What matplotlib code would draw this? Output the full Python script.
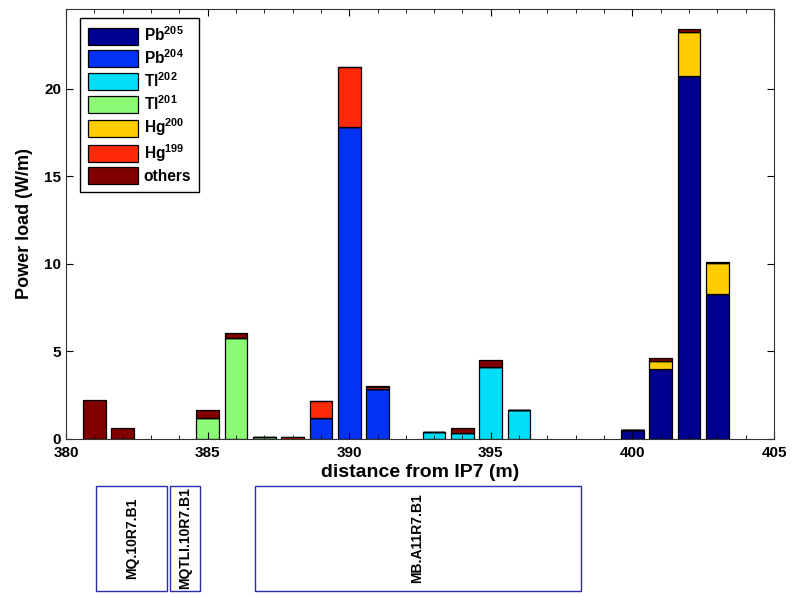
import numpy as np
import matplotlib.pyplot as plt
from matplotlib.patches import Rectangle
from matplotlib.ticker import MultipleLocator

plt.rcParams['font.family'] = ['Liberation Sans', 'DejaVu Sans']
plt.rcParams['font.weight'] = 'bold'
plt.rcParams['mathtext.fontset'] = 'custom'
plt.rcParams['mathtext.bf'] = 'Liberation Sans:bold'
plt.rcParams['mathtext.rm'] = 'Liberation Sans:bold'
plt.rcParams['mathtext.default'] = 'bf'

# positions along the beam line (m)
pos = [381, 382, 385, 386, 387, 388, 389, 390, 391, 393, 394, 395, 396, 400, 401, 402, 403]

# power load per isotope (W/m)
pb205 = [0, 0, 0, 0, 0, 0, 0, 0, 0, 0, 0, 0, 0, 0.51, 4.0, 20.76, 8.27]
pb204 = [0, 0, 0, 0, 0, 0, 1.18, 17.85, 2.84, 0, 0, 0, 0, 0, 0, 0, 0]
tl202 = [0, 0, 0, 0, 0, 0, 0, 0, 0, 0.38, 0.36, 4.13, 1.66, 0, 0, 0, 0]
tl201 = [0, 0, 1.18, 5.75, 0.13, 0, 0, 0, 0, 0, 0, 0, 0, 0, 0, 0, 0]
hg200 = [0, 0, 0, 0, 0, 0, 0, 0, 0, 0, 0, 0, 0, 0, 0.46, 2.48, 1.77]
hg199 = [0, 0, 0, 0, 0, 0.12, 0.99, 3.42, 0.13, 0, 0, 0, 0, 0, 0, 0, 0]
others = [2.25, 0.62, 0.48, 0.29, 0, 0, 0, 0, 0.03, 0, 0.29, 0.38, 0, 0, 0.19, 0.16, 0.07]

series = [pb205, pb204, tl202, tl201, hg200, hg199, others]
labels = ['Pb$^{205}$', 'Pb$^{204}$', 'Tl$^{202}$', 'Tl$^{201}$', 'Hg$^{200}$', 'Hg$^{199}$', 'others']
colors = ['#000090', '#0433F5', '#00DDF6', '#8CFA74', '#FFCC00', '#FF2A0A', '#800000']

# magnets below the plot: name, start, end (m)
magnets = ['MQ.10R7.B1', 'MQTLI.10R7.B1', 'MB.A11R7.B1']
mag_start = [381.06, 383.67, 386.66]
mag_end = [383.58, 384.73, 398.17]

fig = plt.figure(figsize=(8.05, 5.97), dpi=100)
ax = fig.add_axes([0.082, 0.2647, 0.8795, 0.7203])

bottom = np.zeros(len(pos))
for vals, lab, col in zip(series, labels, colors):
    vals = np.array(vals)
    ax.bar(pos, vals, width=0.8, bottom=bottom, color=col, edgecolor='black',
           linewidth=0.9, label=lab)
    bottom += vals

ax.set_xlim(380, 405)
ax.set_ylim(0, 24.57)
ax.xaxis.set_major_locator(MultipleLocator(5))
ax.xaxis.set_minor_locator(MultipleLocator(1))
ax.yaxis.set_major_locator(MultipleLocator(5))
ax.tick_params(which='both', direction='in', top=True, right=True, labelsize=11)
ax.tick_params(axis='x', pad=5)
ax.tick_params(which='major', length=5)
ax.tick_params(which='minor', length=3)
for s in ax.spines.values():
    s.set_color('#333333')
ax.set_xlabel('distance from IP7 (m)', fontsize=14, fontweight='bold', labelpad=3)
ax.set_ylabel('Power load (W/m)', fontsize=13, fontweight='bold', labelpad=8)

leg = ax.legend(loc='upper left', fontsize=11.2, handlelength=3.2, handleheight=1.3,
                labelspacing=0.24, borderpad=0.5, handletextpad=0.4,
                borderaxespad=0, fancybox=False, edgecolor='black', framealpha=1,
                bbox_to_anchor=(0.0198, 0.979))
leg.get_frame().set_linewidth(1.0)

# magnet layout strip
ax2 = fig.add_axes([0.082, 0.01, 0.8795, 0.176])
ax2.set_xlim(380, 405)
ax2.set_ylim(0, 1)
ax2.axis('off')
for name, x0, x1 in zip(magnets, mag_start, mag_end):
    ax2.add_patch(Rectangle((x0, 0), x1 - x0, 1, fill=False, edgecolor='#2A2AB0',
                            linewidth=1.0, clip_on=False))
    ax2.text((x0 + x1) / 2, 0.5, name, rotation=90, ha='center', va='center',
             fontsize=10, fontweight='bold')

fig.savefig('out.png', dpi=100)
